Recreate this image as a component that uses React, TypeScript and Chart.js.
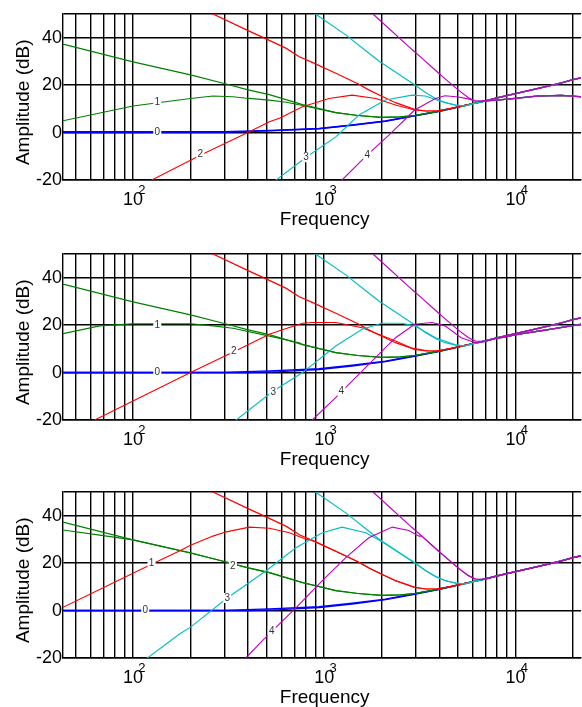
import React, { useEffect, useRef } from 'react';
import { Chart, registerables } from 'chart.js';

Chart.register(...registerables);

type Pt = [number, number];
type Label = [string, number, number];

const FONT = "'Liberation Sans', Arial, Helvetica, sans-serif";

// axes
const F_MIN = 43.07;
const F_MAX = 22050;
const DB_MIN = -20;
const DB_MAX = 50;
const DB_TICKS = [-20, 0, 20, 40, 50];
const FREQ_GRID = [50, 60, 70, 80, 90, 100, 200, 300, 400, 500, 600, 700, 800, 900, 1000,
  2000, 3000, 4000, 5000, 6000, 7000, 8000, 9000, 10000, 20000];
const DECADES = [100, 1000, 10000];
const DECADE_EXPONENTS = ['2', '3', '4'];
const X_TITLE = ' Frequency';
const Y_TITLE = 'Amplitude (dB)  ';

// shared high-frequency asymptote [Hz, dB]
const ASYM: Pt[] = [[3000, 7.5], [4000, 9.0], [5000, 10.8], [6000, 12.2], [7000, 13.4], [8000, 14.6],
  [10000, 16.4], [12500, 18.2], [15000, 19.7], [17500, 21.0], [20000, 22.3], [22050, 23.1]];

// descending curves (same in all panels)
const BLUE_DESC: Pt[] = [[43.07, 0], [300, 0.1], [517, 0.7], [940, 1.6], [1400, 3.1], [2090, 4.8], [2970, 7.1]];
const GREEN_DESC: Pt[] = [[43.07, 37.3], [100, 29.8], [200, 24.3], [300, 20.7], [400, 18.0], [517, 16.0],
  [770, 11.8], [1150, 8.4], [1500, 7.2], [2000, 6.4], [2500, 6.6], [2970, 7.2], [3900, 8.9]];
const RED_DESC: Pt[] = [[230, 52.6], [262, 50], [400, 43.0], [513, 39.0], [634, 35.5], [741, 32.0], [866, 29.6],
  [1150, 25.0], [1500, 20.6], [1710, 18.0], [2000, 15.3], [2360, 12.6], [2970, 9.8], [3400, 9.1], [3900, 9.2], [4650, 10.2]];
const CYAN_DESC: Pt[] = [[850, 52.5], [900, 50], [1297, 41.2], [1650, 34.5], [1930, 30.2], [2970, 20.2],
  [3400, 16.8], [3820, 14.4], [4300, 12.6], [4860, 11.6], [5450, 11.2]];
const MAGENTA_DESC: Pt[] = [[1700, 52], [1800, 50], [2880, 35], [3230, 31.5], [3970, 25], [4130, 23.8],
  [5050, 17.8], [5660, 14.8], [6170, 13.3], [6900, 13.2]];

// high-frequency tails of the peaked curves
const TAIL_P1: Pt[] = [[7500, 13.5], [9100, 14.1], [11000, 14.8], [13100, 15.4], [17400, 15.7], [22050, 15.1]];
const TAIL_P2: Pt[] = [[8500, 14.8], [10400, 16.2], [14300, 17.9], [18000, 19.2], [22050, 20.4]];

// peaked curves, panel 1
const BLUE_HUMP_P1: Pt[] = [[43.07, 0.35], [300, 0.4], [517, 0.9], [940, 1.7], [1400, 3.2], [2090, 4.9], [2970, 7.1]];
const GREEN_HUMP_P1: Pt[] = [[43.07, 5.0], [100, 11.2], [200, 14.4], [262, 15.4], [333, 15.1], [404, 14.4],
  [517, 13.7], [634, 12.8], [770, 11.4]];
const RED_HUMP_P1: Pt[] = [[120, -20.8], [225, -9.6], [406, 0.3], [517, 4.6], [583, 6.0], [770, 10.9], [1060, 14.4],
  [1400, 15.8], [1860, 14.4], [2360, 11.6], [2970, 9.5]];
const CYAN_HUMP_P1: Pt[] = [[540, -21], [804, -10.4], [1150, -1.8], [1520, 7.4], [2090, 13.7], [2880, 15.8],
  [3380, 15.4], [4130, 13.0], [4860, 11.6]];
const MAGENTA_HUMP_P1: Pt[] = [[1240, -20], [1680, -9.4], [2180, -1.1], [2970, 9.5], [3820, 14.4], [4280, 15.5],
  [5050, 15.0], [5660, 14.2], [6170, 13.3]];

// peaked curves, panel 2
const BLUE_HUMP_P2: Pt[] = [[43.07, 0], [400, 0], [583, 0.4], [940, 1.3], [1400, 2.8], [2090, 4.6], [2970, 6.9]];
const GREEN_HUMP_P2: Pt[] = [[43.07, 16.4], [67, 19.7], [100, 20.6], [200, 20.6], [262, 19.7], [333, 18.7],
  [497, 15.7], [740, 12.6]];
const RED_HUMP_P2: Pt[] = [[62, -20.3], [200, 0], [337, 8.8], [517, 16.2], [583, 17.6], [770, 20.8], [866, 21.1],
  [1150, 21.1], [1580, 18.9], [2360, 13.3], [2880, 10.3], [3530, 9.1]];
const CYAN_HUMP_P2: Pt[] = [[340, -20.5], [537, -8.0], [770, 0], [1150, 11.2], [1580, 18.3], [2000, 20.8],
  [2540, 20.8], [2970, 19.7], [3820, 14.7], [4860, 11.7]];
const MAGENTA_HUMP_P2: Pt[] = [[866, -20], [1127, -11.2], [1710, 3.5], [2360, 14.7], [2970, 20.4], [3660, 21.1],
  [4280, 19.7], [5200, 14.7], [6170, 12.6], [6900, 13.0]];

// peaked curves, panel 3
const BLUE_HUMP_P3: Pt[] = [[43.07, 0], [400, 0], [583, 0.4], [940, 1.3], [1400, 2.8], [2090, 4.6], [2970, 6.9]];
const GREEN_HUMP_P3: Pt[] = [[43.07, 34.0], [67, 31.8]];
const RED_HUMP_P3: Pt[] = [[43.07, 1.4], [125, 19.5], [176, 25.2], [200, 27.5], [262, 31.4], [308, 33.2],
  [406, 35.2], [518, 34.7], [657, 32.8], [804, 30.1]];
const CYAN_HUMP_P3: Pt[] = [[118, -20.2], [176, -9.8], [200, -7.0], [311, 5.3], [497, 16.8], [711, 26.5],
  [978, 32.8], [1240, 35.2], [1650, 32.8], [1930, 29.8]];
const MAGENTA_HUMP_P3: Pt[] = [[389, -20], [477, -12.6], [532, -8.8], [711, 1.1], [978, 12.6], [1297, 22.3],
  [1710, 30.7], [2270, 35.2], [2770, 33.8], [3130, 31.4]];

// curve labels [text, Hz, dB]
const LABELS_P1: Label[] = [['0', 134, 0], ['1', 134, 12.7], ['2', 225, -9.1], ['3', 804, -10.4], ['4', 1680, -9.4]];
const LABELS_P2: Label[] = [['0', 134, 0], ['1', 134, 20.0], ['2', 337, 8.8], ['3', 541, -8.4], ['4', 1230, -7.7]];
const LABELS_P3: Label[] = [['0', 116, 0], ['1', 125, 19.8], ['2', 333, 18.9], ['3', 311, 5.3], ['4', 532, -8.8]];

const COLORS = ['#0000ff', '#008000', '#ff0000', '#00bfbf', '#bf00bf'];

function join(a: Pt[], b: Pt[]): Pt[] {
  const last = a[a.length - 1][0];
  return a.concat(b.filter((p) => p[0] > last * 1.02));
}
function upTo(a: Pt[], fmax: number): Pt[] {
  return a.filter((p) => p[0] <= fmax);
}

const DESC_FULL: Pt[][] = [
  join(BLUE_DESC, ASYM),
  join(GREEN_DESC, ASYM),
  join(RED_DESC, ASYM),
  join(CYAN_DESC, ASYM),
  join(MAGENTA_DESC, ASYM),
];

const HUMPS_P1: Pt[][] = [
  join(upTo(join(BLUE_HUMP_P1, ASYM), 7000), TAIL_P1),
  join(upTo(join(GREEN_HUMP_P1, DESC_FULL[1]), 7000), TAIL_P1),
  join(upTo(join(RED_HUMP_P1, DESC_FULL[2]), 7000), TAIL_P1),
  join(upTo(join(CYAN_HUMP_P1, DESC_FULL[3]), 7000), TAIL_P1),
  join(MAGENTA_HUMP_P1, TAIL_P1),
];
const HUMPS_P2: Pt[][] = [
  join(upTo(join(BLUE_HUMP_P2, ASYM), 8000), TAIL_P2),
  join(upTo(join(GREEN_HUMP_P2, DESC_FULL[1]), 8000), TAIL_P2),
  join(upTo(join(RED_HUMP_P2, DESC_FULL[2]), 8000), TAIL_P2),
  join(upTo(join(CYAN_HUMP_P2, DESC_FULL[3]), 8000), TAIL_P2),
  join(upTo(join(MAGENTA_HUMP_P2, ASYM), 8000), TAIL_P2),
];
const HUMPS_P3: Pt[][] = [
  join(BLUE_HUMP_P3, ASYM),
  join(GREEN_HUMP_P3, DESC_FULL[1]),
  join(RED_HUMP_P3, DESC_FULL[2]),
  join(CYAN_HUMP_P3, DESC_FULL[3]),
  join(MAGENTA_HUMP_P3, DESC_FULL[4]),
];

const PANELS = [
  { top: 0, humps: HUMPS_P1, labels: LABELS_P1 },
  { top: 240, humps: HUMPS_P2, labels: LABELS_P2 },
  { top: 478, humps: HUMPS_P3, labels: LABELS_P3 },
];

function Panel({ top, humps, labels }: { top: number; humps: Pt[][]; labels: Label[] }) {
  const ref = useRef<HTMLCanvasElement>(null);
  useEffect(() => {
    if (!ref.current) return;
    const datasets: any[] = [];
    COLORS.forEach((c, i) => {
      datasets.push({
        data: DESC_FULL[i].map(([x, y]) => ({ x, y })),
        borderColor: c, borderWidth: i === 0 ? 1.4 : 1.2, pointRadius: 0, tension: 0, fill: false,
        order: 20 - i * 2,
      });
      datasets.push({
        data: humps[i].map(([x, y]) => ({ x, y })),
        borderColor: c, borderWidth: i === 0 ? 1.4 : 1.1, pointRadius: 0, tension: 0, fill: false,
        order: 19 - i * 2,
      });
    });

    const deco = {
      id: 'deco',
      afterDatasetsDraw(chart: any) {
        const ctx = chart.ctx;
        const xs = chart.scales.x;
        const ys = chart.scales.y;
        ctx.save();
        ctx.font = `10px ${FONT}`;
        ctx.textAlign = 'center';
        ctx.textBaseline = 'middle';
        labels.forEach(([t, f, db]) => {
          const px = xs.getPixelForValue(f);
          const py = ys.getPixelForValue(db);
          ctx.fillStyle = '#ffffff';
          ctx.fillRect(px - 4, py - 5, 8, 10);
          ctx.fillStyle = '#333333';
          ctx.fillText(t, px, py);
        });
        ctx.restore();
      },
      afterDraw(chart: any) {
        const ctx = chart.ctx;
        const xs = chart.scales.x;
        const bottom = chart.chartArea.bottom;
        ctx.save();
        ctx.font = `13px ${FONT}`;
        ctx.fillStyle = '#000';
        ctx.textAlign = 'center';
        ctx.textBaseline = 'middle';
        DECADES.forEach((d, i) => {
          ctx.fillText(DECADE_EXPONENTS[i], xs.getPixelForValue(d) + 9, bottom + 10);
        });
        ctx.restore();
      },
    };

    const chart = new Chart(ref.current, {
      type: 'line',
      data: { datasets },
      options: {
        responsive: false,
        animation: false,
        devicePixelRatio: 1,
        layout: { padding: { top: 14, right: 0, bottom: 0, left: 0 } },
        plugins: { legend: { display: false }, tooltip: { enabled: false } },
        events: [],
        scales: {
          x: {
            type: 'logarithmic',
            min: F_MIN,
            max: F_MAX,
            afterBuildTicks: (s: any) => { s.ticks = FREQ_GRID.map((v) => ({ value: v })); },
            afterFit: (s: any) => { s.height = 60; },
            ticks: {
              autoSkip: false, maxRotation: 0, minRotation: 0, padding: 9, color: '#000',
              font: { family: FONT, size: 18 },
              callback: (v: any) => (DECADES.includes(Number(v)) ? '10' : ''),
            },
            grid: { color: '#000', lineWidth: 1.4, drawTicks: false },
            border: { display: true, color: '#000', width: 1.4 },
            title: {
              display: true, text: X_TITLE, color: '#000',
              font: { family: FONT, size: 19 }, padding: { top: 0, bottom: 8.6 },
            },
          },
          y: {
            type: 'linear',
            min: DB_MIN,
            max: DB_MAX,
            afterBuildTicks: (s: any) => { s.ticks = DB_TICKS.map((v) => ({ value: v })); },
            afterFit: (s: any) => { s.width = 63; },
            ticks: {
              padding: 1, color: '#000', font: { family: FONT, size: 18 },
              callback: (v: any) => (Number(v) === DB_MAX ? '' : String(v)),
            },
            grid: { color: '#000', lineWidth: 1.6, drawTicks: false },
            border: { display: true, color: '#000', width: 1.4 },
            title: {
              display: true, text: Y_TITLE, color: '#000',
              font: { family: FONT, size: 19 }, padding: { top: 12.6, bottom: 0 },
            },
          },
        },
      },
      plugins: [deco],
    } as any);
    return () => chart.destroy();
  }, [humps, labels]);
  return (
    <canvas
      ref={ref}
      width={582}
      height={240}
      style={{ position: 'absolute', left: 0, top, width: 582, height: 240 }}
    />
  );
}

export default function App() {
  return (
    <div style={{ position: 'absolute', left: 0, top: 0, width: 582, height: 707, overflow: 'hidden', background: '#fff' }}>
      {PANELS.map((p, i) => (
        <Panel key={i} top={p.top} humps={p.humps} labels={p.labels} />
      ))}
    </div>
  );
}
